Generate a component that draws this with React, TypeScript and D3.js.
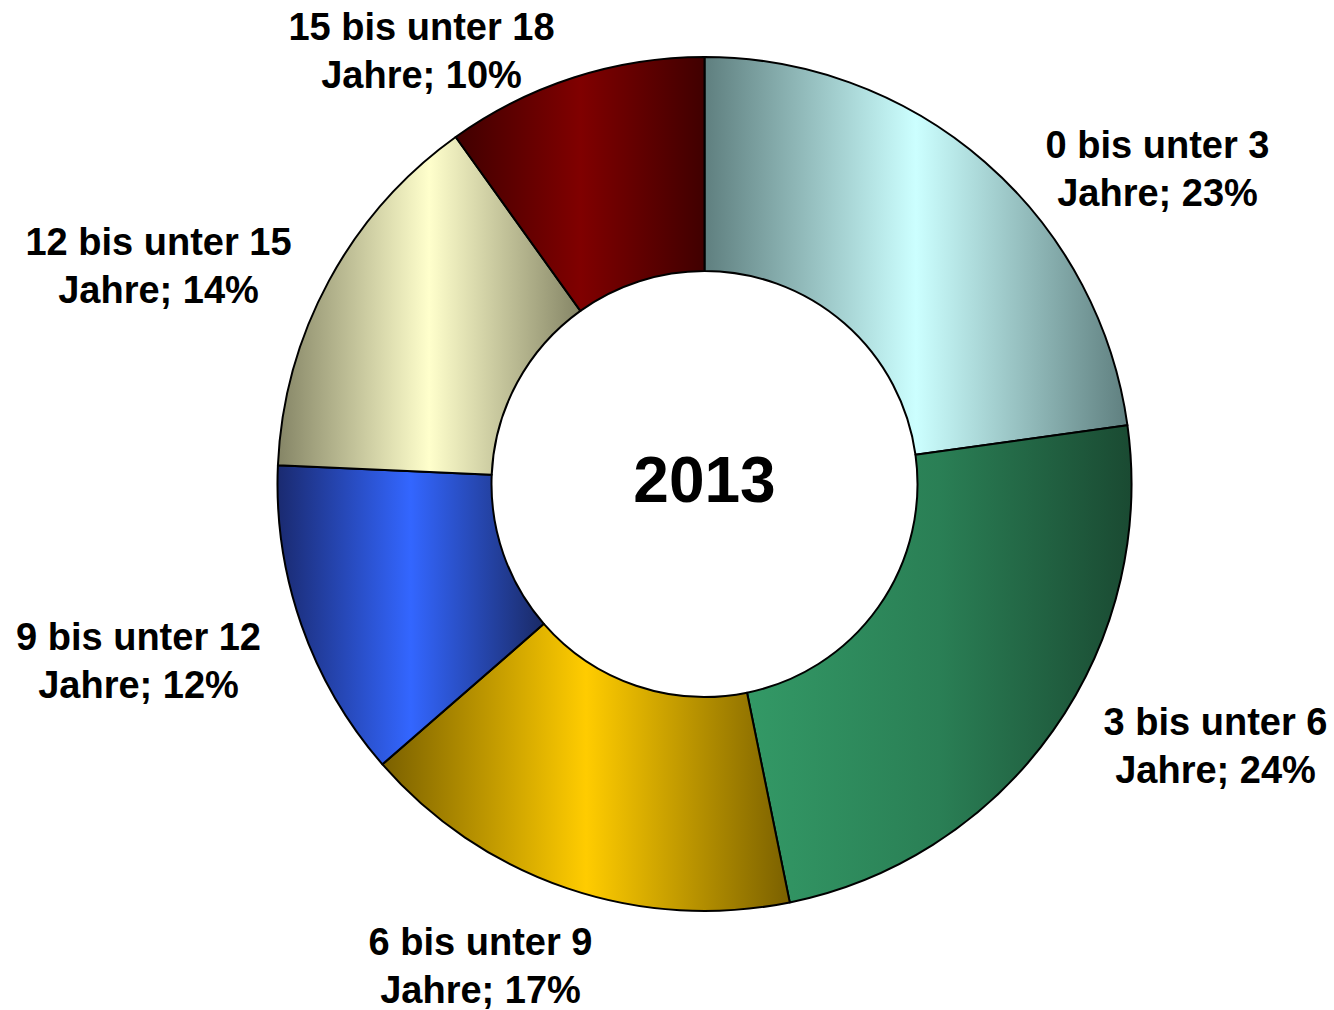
import React from "react";
import * as d3 from "d3";

const categories = [
  "0 bis unter 3",
  "3 bis unter 6",
  "6 bis unter 9",
  "9 bis unter 12",
  "12 bis unter 15",
  "15 bis unter 18",
];
const values = [22.8, 24.0, 16.8, 12.1, 14.4, 9.9];
const year = "2013";

// gradient colors: [edge, middle, edge]
const gradients = [
  ["#5f7f7f", "#ccffff", "#5f7f7f"],
  ["#339966", "#2a7f55", "#1a4a32"],
  ["#7a6000", "#ffcc00", "#7a6000"],
  ["#1a2a70", "#3366ff", "#1a2a66"],
  ["#858566", "#ffffcc", "#858566"],
  ["#400000", "#800000", "#400000"],
];

// label anchor centers relative to the pie center (layout)
const labelPos: [number, number][] = [
  [453, -315],
  [511, 262],
  [-224, 482],
  [-566, 177],
  [-546, -218],
  [-283, -433],
];

const W = 1334;
const H = 1010;
const cx = 704.5;
const cy = 484;
const outerR = 427;
const innerR = 213;
const fontSize = 38;
const lineH = 48;

export default function App() {
  const pie = d3.pie<number>().sort(null).startAngle(0).endAngle(2 * Math.PI);
  const arcs = pie(values);
  const arc = d3.arc<d3.PieArcDatum<number>>().innerRadius(innerR).outerRadius(outerR);
  const total = d3.sum(values);

  return (
    <svg
      width={W}
      height={H}
      style={{ position: "absolute", left: 0, top: 0, background: "#fff" }}
      fontFamily="'Liberation Sans', Arial, sans-serif"
    >
      <defs>
        {gradients.map((g, i) => (
          <linearGradient key={i} id={`g${i}`} x1="0" x2="1" y1="0" y2="0">
            <stop offset="0" stopColor={g[0]} />
            <stop offset="0.5" stopColor={g[1]} />
            <stop offset="1" stopColor={g[2]} />
          </linearGradient>
        ))}
      </defs>
      <g transform={`translate(${cx},${cy})`}>
        {arcs.map((a, i) => (
          <path
            key={i}
            d={arc(a) || ""}
            fill={`url(#g${i})`}
            stroke="#000"
            strokeWidth={2}
            strokeLinejoin="round"
          />
        ))}
        <text
          x={0}
          y={-4}
          textAnchor="middle"
          dominantBaseline="central"
          fontSize={64}
          fontWeight="bold"
          fill="#000"
        >
          {year}
        </text>
        {arcs.map((a, i) => {
          const [lx, ly] = labelPos[i];
          const pct = Math.round((a.data / total) * 100);
          return (
            <text
              key={`l${i}`}
              x={lx}
              y={ly}
              textAnchor="middle"
              fontSize={fontSize}
              fontWeight="bold"
              fill="#000"
            >
              <tspan x={lx} dy={-lineH / 2 + 13}>
                {categories[i]}
              </tspan>
              <tspan x={lx} dy={lineH}>
                {`Jahre; ${pct}%`}
              </tspan>
            </text>
          );
        })}
      </g>
    </svg>
  );
}
